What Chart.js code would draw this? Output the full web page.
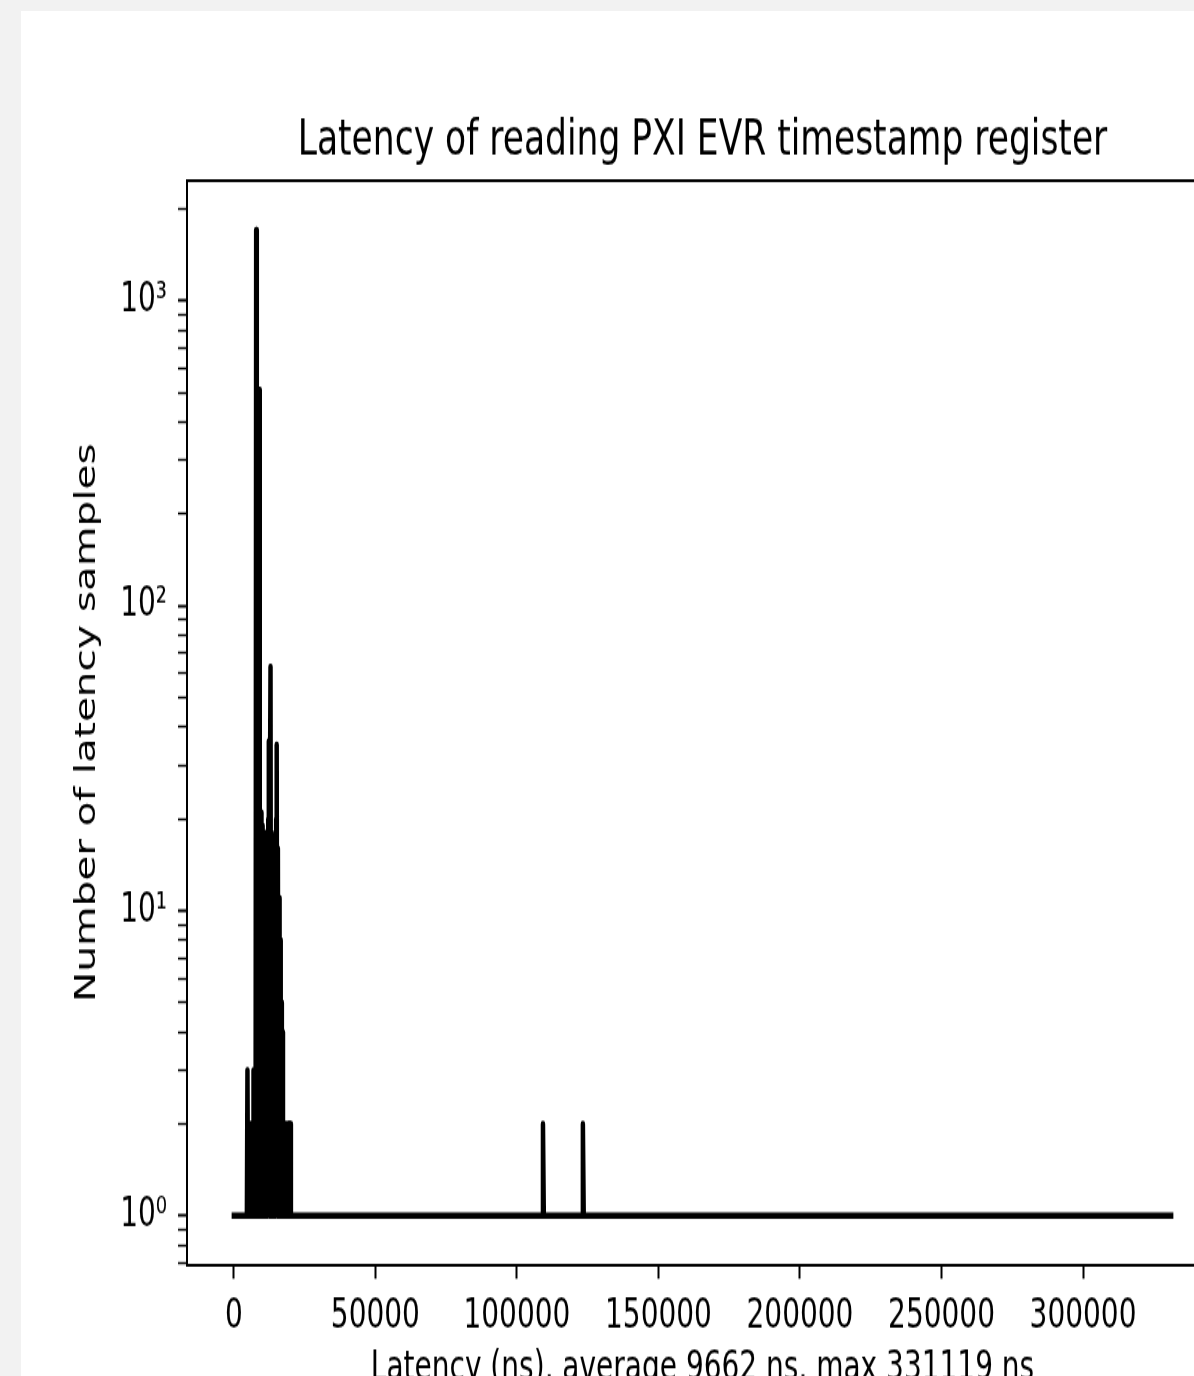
<!DOCTYPE html>
<html>
<head>
<meta charset="utf-8">
<script src="https://cdn.jsdelivr.net/npm/chart.js@4"></script>
<style>
html,body{margin:0;padding:0;background:#f2f2f2;overflow:hidden;width:1194px;height:1376px;}
#wrap{position:absolute;left:21px;top:11px;width:1320px;height:1420px;background:#ffffff;overflow:hidden;}
#c{position:absolute;left:0;top:0;transform:scaleY(1.45);transform-origin:0 0;}
</style>
</head>
<body>
<div id="wrap"><canvas id="c" width="1300" height="958"></canvas></div>
<script>
// ---- data (latency histogram, count per latency bin) ----
const latencyNs = [
  0, 4600, 4800, 5000, 5200, 5400, 5600, 5800, 6000, 6200,
  6400, 6600, 6800, 6950, 7150, 7350, 7550, 7700, 7880, 8100,
  8300, 8500, 8700, 8850, 9000, 9150, 9350, 9550, 9750, 9950,
  10150, 10350, 10550, 10750, 10950, 11150, 11350, 11550, 11750, 11950,
  12150, 12350, 12550, 12750, 12950, 13150, 13350, 13550, 13750, 13950,
  14150, 14350, 14550, 14750, 14950, 15130, 15350, 15550, 15750, 15950,
  16150, 16350, 16550, 16750, 16950, 17150, 17350, 17550, 17750, 17950,
  18150, 18350, 18550, 18750, 18950, 19150, 19350, 19550, 19750, 19950,
  20150, 108900, 109200, 109500, 123000, 123300, 123600, 331119];
const sampleCounts = [
  1, 1, 3, 1, 2, 1, 2, 1, 2, 1,
  2, 1, 2, 3, 1, 3, 1, 3, 1706, 1,
  40, 1, 60, 1, 510, 1, 21, 1, 21, 1,
  19, 1, 17, 1, 17, 1, 18, 1, 17, 1,
  20, 36, 1, 25, 63, 1, 18, 1, 16, 1,
  16, 1, 16, 1, 20, 35, 1, 16, 1, 11,
  1, 8, 1, 5, 1, 4, 1, 2, 1, 2,
  1, 2, 1, 2, 1, 2, 1, 2, 1, 2,
  1, 1, 2, 1, 1, 2, 1, 1];
const xTickValues = [0, 50000, 100000, 150000, 200000, 250000, 300000];
const yTickValues = [0.7, 0.8, 0.9, 1, 2, 3, 4, 5, 6, 7, 8, 9, 10, 20, 30, 40, 50, 60, 70, 80, 90,
  100, 200, 300, 400, 500, 600, 700, 800, 900, 1000, 2000];
const yTickLabels = {1: '10\u2070', 10: '10\u00B9', 100: '10\u00B2', 1000: '10\u00B3'};
const chartTitle = 'Latency of reading PXI EVR timestamp register';
const xAxisTitle = 'Latency (ns), average 9662 ns, max 331119 ns';
const yAxisTitle = 'Number of latency samples';

const FONT = 'DejaVu Sans';

const framePlugin = {
  id: 'frame',
  afterDraw(chart) {
    const {ctx, chartArea: a} = chart;
    ctx.save();
    ctx.strokeStyle = '#000';
    ctx.lineWidth = 2;
    ctx.beginPath();
    ctx.moveTo(a.left - 1, a.top);
    ctx.lineTo(a.right, a.top);
    ctx.lineTo(a.right, a.bottom + 1);
    ctx.stroke();
    ctx.restore();
  }
};

new Chart(document.getElementById('c'), {
  type: 'line',
  data: {
    datasets: [{
      data: latencyNs.map((x, i) => ({x: x, y: sampleCounts[i]})),
      borderColor: '#000',
      borderWidth: 4.5,
      pointRadius: 0,
      tension: 0,
      fill: false,
      borderCapStyle: 'square',
      borderJoinStyle: 'round'
    }]
  },
  options: {
    responsive: false,
    animation: false,
    devicePixelRatio: 1,
    layout: {padding: {left: 46, top: 0, right: 103, bottom: 0}},
    plugins: {
      legend: {display: false},
      tooltip: {enabled: false},
      title: {
        display: true,
        fullSize: false,
        text: chartTitle,
        color: '#000',
        font: {family: FONT, size: 34.5, weight: 'normal', lineHeight: 1.2},
        padding: {top: 69, bottom: 6.5}
      }
    },
    scales: {
      x: {
        type: 'linear',
        bounds: 'data',
        min: -16556,
        max: 347675,
        afterBuildTicks: s => { s.ticks = xTickValues.map(v => ({value: v})); },
        afterFit: s => { s.height = 93.2; },
        ticks: {
          callback: v => String(v),
          color: '#000',
          font: {family: FONT, size: 28},
          padding: 9.5,
          maxRotation: 0,
          autoSkip: false
        },
        grid: {drawOnChartArea: false, drawTicks: true, tickLength: 9.5, tickColor: '#000', tickWidth: 2},
        border: {display: true, color: '#000', width: 2},
        title: {display: true, text: xAxisTitle, color: '#000', font: {family: FONT, size: 28}, padding: {top: 4, bottom: 4}}
      },
      y: {
        type: 'logarithmic',
        min: 0.6895,
        max: 2477,
        afterBuildTicks: s => { s.ticks = yTickValues.map(v => ({value: v, major: yTickLabels[v] !== undefined})); },
        afterFit: s => { s.width = 120; },
        ticks: {
          callback: v => yTickLabels[v] || '',
          color: '#000',
          font: {family: FONT, size: 28},
          padding: 11,
          autoSkip: false
        },
        grid: {
          drawOnChartArea: false, drawTicks: true, tickLength: 9, tickColor: '#000',
          tickWidth: ctx => (ctx.tick && yTickLabels[ctx.tick.value] !== undefined) ? 2 : 1.5
        },
        border: {display: true, color: '#000', width: 2},
        title: {display: true, text: yAxisTitle, color: '#000', font: {family: FONT, size: 28}, padding: {top: 4, bottom: 4}}
      }
    }
  },
  plugins: [framePlugin]
});
</script>
</body>
</html>
